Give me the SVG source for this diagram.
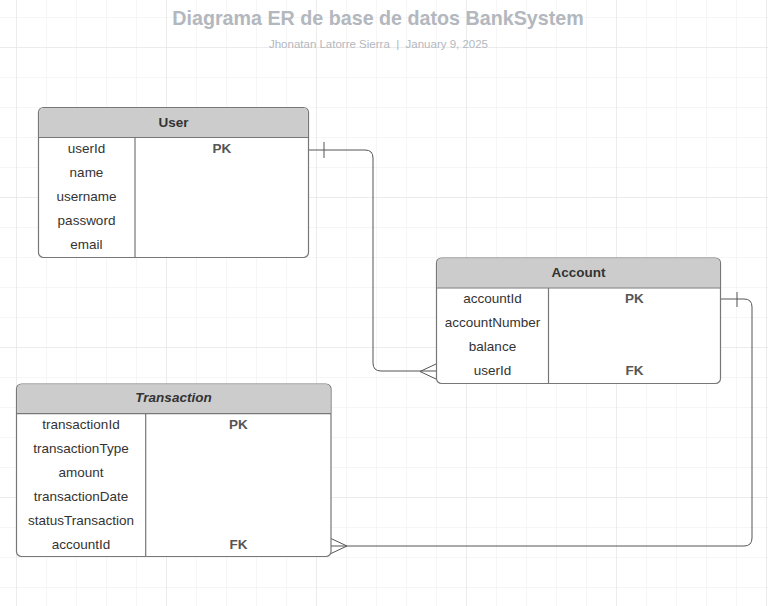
<svg xmlns="http://www.w3.org/2000/svg" width="768" height="606" viewBox="0 0 768 606">
<defs>
<pattern id="minor" x="16" y="17" width="30" height="30" patternUnits="userSpaceOnUse">
<path d="M0 0H30M0 0V30" fill="none" stroke="#ededed" stroke-width="1"/>
</pattern>
<pattern id="major" x="16" y="47" width="150" height="150" patternUnits="userSpaceOnUse">
<path d="M0 0H150M0 0V150" fill="none" stroke="#e2e2e2" stroke-width="1"/>
</pattern>
</defs>
<style>
.box{fill:#fff;stroke:#777;stroke-width:1.2}
.hdr{fill:#cccccc}
.sep{stroke:#777;stroke-width:1.2}
.t{font-family:"Liberation Sans",Arial,sans-serif;font-size:13.5px;fill:#333;text-anchor:middle}
.h{font-family:"Liberation Sans",Arial,sans-serif;font-size:13.5px;font-weight:bold;fill:#333;text-anchor:middle}
.k{font-family:"Liberation Sans",Arial,sans-serif;font-size:13.5px;font-weight:bold;fill:#555;text-anchor:middle}
.c{fill:none;stroke:#555;stroke-width:1}
.title{font-family:"Liberation Sans",Arial,sans-serif;font-size:19.7px;font-weight:bold;fill:#b3b7be;text-anchor:middle}
.sub{font-family:"Liberation Sans",Arial,sans-serif;font-size:11.5px;fill:#b3b7be;text-anchor:middle}
</style>
<rect width="768" height="606" fill="#fff"/>
<rect width="768" height="606" fill="url(#minor)"/>
<rect width="768" height="606" fill="url(#major)"/>

<text class="title" x="378" y="25">Diagrama ER de base de datos BankSystem</text>
<text class="sub" x="378.5" y="48" xml:space="preserve">Jhonatan Latorre Sierra  |  January 9, 2025</text>

<g id="connectors">
<path class="c" d="M308 150H365Q373 150 373 158V363Q373 371 381 371H436"/>
<path class="c" d="M324 142V158"/>
<path class="c" d="M436 364L420 371.5L436 379"/>
<path class="c" d="M721 299H744Q752 299 752 307V538Q752 546 744 546H331"/>
<path class="c" d="M737 292V307"/>
<path class="c" d="M331 538.5L347 546L331 553.5"/>
</g>

<g id="user">
<rect class="box" x="38.5" y="107.5" width="270" height="150" rx="5"/>
<path class="hdr" d="M43.5 108.1H303.5Q307.9 108.1 307.9 112.5V137H39.1V112.5Q39.1 108.1 43.5 108.1Z"/>
<path class="sep" d="M38.5 137.5H308.5M135 137.5V257.5"/>
<text class="h" x="173.5" y="126.5">User</text>
<text class="t" x="86.5" y="152.5">userId</text>
<text class="k" x="222" y="152.5">PK</text>
<text class="t" x="86.5" y="176.5">name</text>
<text class="t" x="86.5" y="200.5">username</text>
<text class="t" x="86.5" y="224.5">password</text>
<text class="t" x="86.5" y="248.5">email</text>
</g>

<g id="account">
<rect class="box" x="436.5" y="258" width="284" height="125.5" rx="5"/>
<path class="hdr" d="M441.5 258.6H715.5Q720 258.6 720 263V287.7H437.1V263Q437.1 258.6 441.5 258.6Z"/>
<path class="sep" d="M436.5 288H720.5M548.5 288V383.5"/>
<text class="h" x="578.5" y="276.5">Account</text>
<text class="t" x="492.5" y="302.5">accountId</text>
<text class="k" x="634.5" y="302.5">PK</text>
<text class="t" x="492.5" y="326.5">accountNumber</text>
<text class="t" x="492.5" y="350.5">balance</text>
<text class="t" x="492.5" y="374.5">userId</text>
<text class="k" x="634.5" y="374.5">FK</text>
</g>

<g id="transaction">
<rect class="box" x="16.5" y="384" width="314.5" height="172.5" rx="5"/>
<path class="hdr" d="M21.5 384.6H326Q330.4 384.6 330.4 389V413.4H17.1V389Q17.1 384.6 21.5 384.6Z"/>
<path class="sep" d="M16.5 413.7H331M145.7 413.7V556.5"/>
<text class="h" x="173.5" y="402" font-style="italic">Transaction</text>
<text class="t" x="81" y="428.5">transactionId</text>
<text class="k" x="238.5" y="428.5">PK</text>
<text class="t" x="81" y="452.5">transactionType</text>
<text class="t" x="81" y="476.5">amount</text>
<text class="t" x="81" y="500.5">transactionDate</text>
<text class="t" x="81" y="524.5">statusTransaction</text>
<text class="t" x="81" y="548.5">accountId</text>
<text class="k" x="238.5" y="548.5">FK</text>
</g>
</svg>
